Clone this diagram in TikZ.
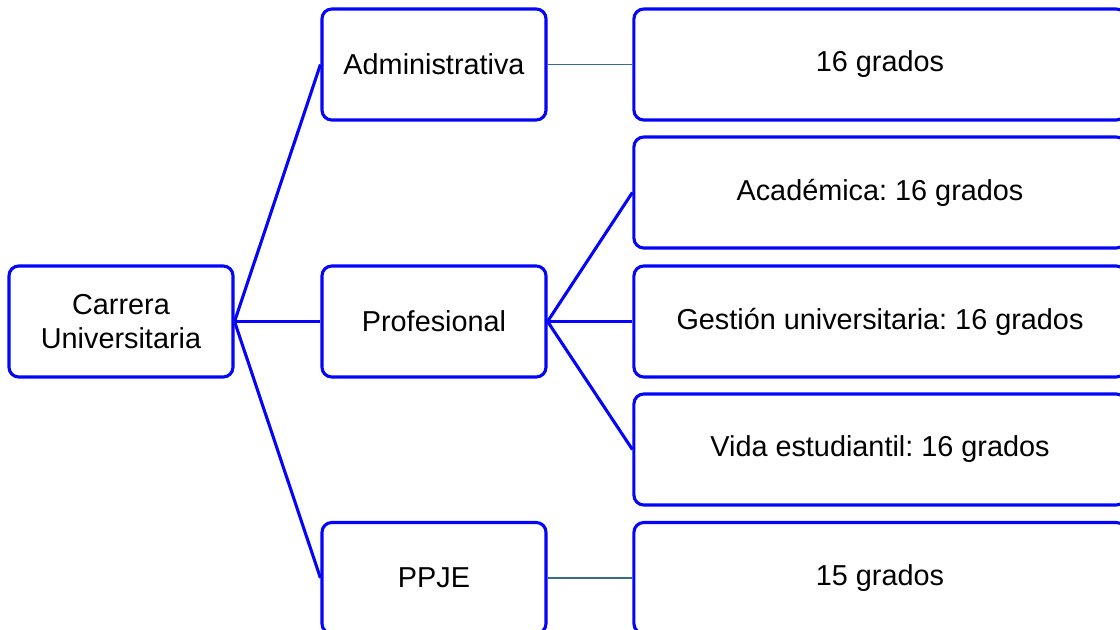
\documentclass[tikz,border=0pt]{standalone}
\usepackage{fontspec}
\setmainfont{Liberation Sans}
\usetikzlibrary{positioning}
\definecolor{boxblue}{RGB}{5,5,250}
\definecolor{linkteal}{RGB}{50,110,135}

\begin{document}
\frenchspacing
\begin{tikzpicture}[x=0.025cm,y=-0.025cm,
  gradebox/.style={draw=boxblue,line width=2.2pt,rounded corners=7pt,
    minimum width=5.6cm,minimum height=2.775cm,align=center,
    font=\fontsize{20.5}{24}\selectfont,inner sep=2pt},
  widebox/.style={gradebox,minimum width=12.3cm},
  branch/.style={draw=boxblue,line width=2.2pt},
  link/.style={draw=linkteal,line width=1.4pt}]

\useasboundingbox (0,0) rectangle (1120,630);
\clip (0,0) rectangle (1120,630);

% left column:
\node[gradebox] (carrera) at (121,321.5) {Carrera\\Universitaria};

% middle column:
\node[gradebox] (admin) at (434,64.5) {Administrativa};
\node[gradebox] (prof) at (434,321.5) {Profesional};
\node[gradebox] (ppje) at (434,578) {PPJE};

% right column:
\node[widebox] (adminG) at (880,64.5) {16 grados};
\node[widebox] (acad) at (880,192.5) {Académica: 16 grados};
\node[widebox] (gest) at (880,321.5) {Gestión universitaria: 16 grados};
\node[widebox] (vida) at (880,449.5) {Vida estudiantil: 16 grados};
\node[widebox] (ppjeG) at (880,578) {15 grados};

% connectors:
\draw[branch] (carrera.east) -- (admin.west);
\draw[branch] (carrera.east) -- (prof.west);
\draw[branch] (carrera.east) -- (ppje.west);
\draw[branch] (prof.east) -- (acad.west);
\draw[branch] (prof.east) -- (gest.west);
\draw[branch] (prof.east) -- (vida.west);
\draw[link] (admin.east) -- (adminG.west);
\draw[link] (ppje.east) -- (ppjeG.west);

\end{tikzpicture}
\end{document}
